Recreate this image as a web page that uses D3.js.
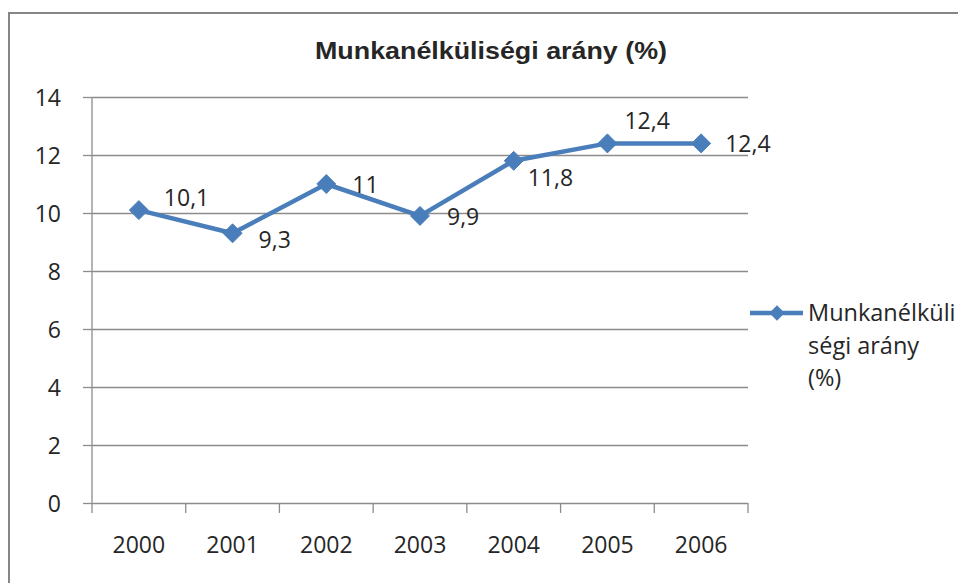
<!DOCTYPE html>
<html>
<head>
<meta charset="utf-8">
<script src="https://cdn.jsdelivr.net/npm/d3@7"></script>
<style>
  body { margin: 0; background: #fff; }
  text { fill: #262626; font-family: "Open Sans", sans-serif; }
  .axis path { display: none; }
  .axis line { stroke: #8c8c8c; stroke-width: 1.3; }
</style>
</head>
<body>
<svg width="958" height="583"></svg>
<script>
const years = ["2000", "2001", "2002", "2003", "2004", "2005", "2006"];
const rates = [10.1, 9.3, 11, 9.9, 11.8, 12.4, 12.4];
const yTicks = [0, 2, 4, 6, 8, 10, 12, 14];
const seriesName = "Munkanélküliségi arány (%)";
const legendLines = ["Munkanélküli", "ségi arány", "(%)"];
// hand placed data labels, [dx, dy] from the marker
const labelOffsets = [[25, -4], [26, 15], [26, 9], [27, 9], [14, 25], [17, -14], [24, 9]];

const svg = d3.select("svg"),
      margin = { top: 97, right: 210, bottom: 80, left: 92 },
      width = +svg.attr("width") - margin.left - margin.right,
      height = +svg.attr("height") - margin.top - margin.bottom;

const blue = "#4a7ebb";

// outer frame
svg.append("rect")
    .attr("x", 9).attr("y", 13)
    .attr("width", 970).attr("height", 600)
    .attr("fill", "none").attr("stroke", "#868686").attr("stroke-width", 2);

svg.append("text")
    .attr("x", 491).attr("y", 59)
    .attr("text-anchor", "middle")
    .attr("textLength", 352).attr("lengthAdjust", "spacingAndGlyphs")
    .style("font-family", "'Liberation Sans Narrow', 'Liberation Sans', sans-serif")
    .style("font-weight", "bold").style("font-size", "24px")
    .text(seriesName);

const x = d3.scaleBand().domain(years).range([0, width]).paddingInner(0).paddingOuter(0);
const y = d3.scaleLinear().domain([0, 14]).range([height, 0]);
const cx = d => x(d) + x.bandwidth() / 2;

const g = svg.append("g").attr("transform", `translate(${margin.left},${margin.top})`);

// y axis with gridlines
const yAxis = g.append("g").attr("class", "axis")
    .call(d3.axisLeft(y).tickValues(yTicks).tickSize(9).tickPadding(22));
yAxis.selectAll("text").style("font-size", "23px").attr("dy", "0.36em");
g.append("g").attr("class", "axis")
    .call(d3.axisLeft(y).tickValues(yTicks).tickSize(-width).tickFormat(""));

// vertical axis line
g.append("line").attr("x1", 0).attr("x2", 0).attr("y1", 0).attr("y2", height)
    .attr("stroke", "#8c8c8c").attr("stroke-width", 1.3);

// x axis: labels centred in bands, tick marks at band edges
const xAxis = g.append("g").attr("class", "axis")
    .attr("transform", `translate(0,${height})`)
    .call(d3.axisBottom(x).tickSize(0).tickPadding(42));
xAxis.selectAll("text").style("font-size", "23px").attr("dy", "0.36em");
g.append("g")
    .selectAll("line")
    .data(years.concat(["end"]))
    .join("line")
    .attr("x1", (d, i) => i * x.bandwidth())
    .attr("x2", (d, i) => i * x.bandwidth())
    .attr("y1", height).attr("y2", height + 10)
    .attr("stroke", "#8c8c8c").attr("stroke-width", 1.3);

const data = years.map((yr, i) => ({ yr, v: rates[i], off: labelOffsets[i] }));

g.append("path").datum(data)
    .attr("fill", "none").attr("stroke", blue).attr("stroke-width", 4.5)
    .attr("stroke-linejoin", "round")
    .attr("d", d3.line().x(d => cx(d.yr)).y(d => y(d.v)));

const diamond = d3.symbol().type(d3.symbolDiamond2).size(230);

g.selectAll(".marker").data(data).join("path")
    .attr("class", "marker")
    .attr("transform", d => `translate(${cx(d.yr)},${y(d.v)})`)
    .attr("d", diamond).attr("fill", blue).attr("stroke", blue).attr("stroke-width", 1);

g.selectAll(".dlabel").data(data).join("text")
    .attr("class", "dlabel")
    .attr("x", d => cx(d.yr) + d.off[0])
    .attr("y", d => y(d.v) + d.off[1])
    .style("font-size", "23px")
    .text(d => String(d.v).replace(".", ","));

// legend
const legend = svg.append("g").attr("transform", "translate(750, 313)");
legend.append("line").attr("x1", 0).attr("x2", 53).attr("y1", 0).attr("y2", 0)
    .attr("stroke", blue).attr("stroke-width", 4.5);
legend.append("path").attr("transform", "translate(27,0)").attr("d", d3.symbol().type(d3.symbolDiamond2).size(150)).attr("fill", blue);
legend.selectAll("text").data(legendLines).join("text")
    .attr("x", 58).attr("y", (d, i) => 8 + i * 32.5)
    .style("font-size", "23.5px")
    .text(d => d);
</script>
</body>
</html>
